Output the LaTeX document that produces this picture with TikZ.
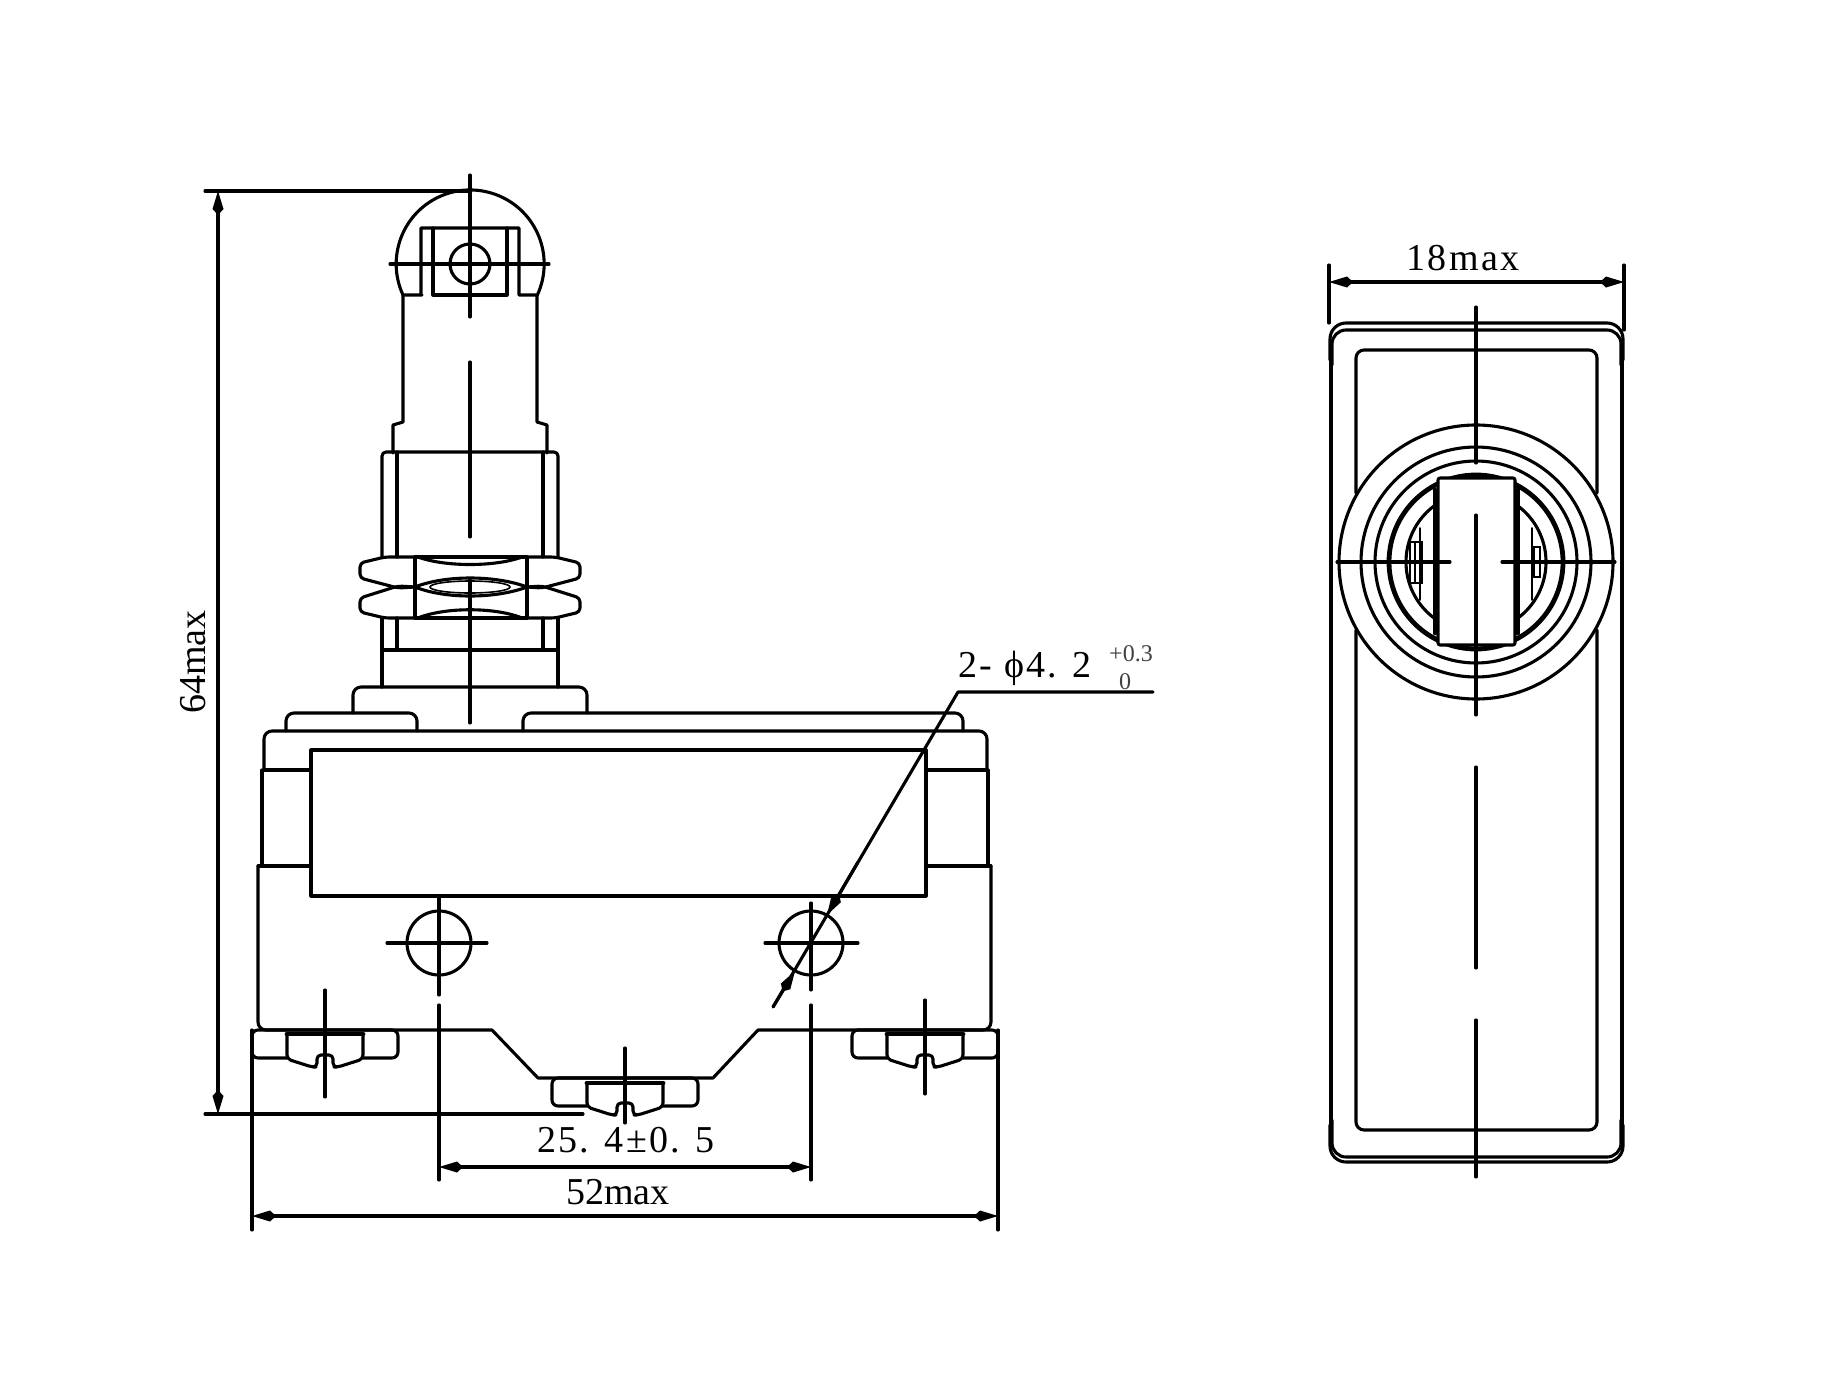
\documentclass[tikz,border=0pt]{standalone}
\usepackage{fontspec}
\setmainfont{Liberation Serif}
\newfontfamily\spacedfont[LetterSpace=6]{Liberation Serif}
\usetikzlibrary{arrows.meta}
\tikzset{
	part/.style={line width=1.55pt,line cap=round,line join=round},
	heavy/.style={line width=2.4pt,line cap=round,line join=round},
	fine/.style={line width=.8pt,line cap=round},
	dimline/.style={line width=1.55pt,{Kite[length=12pt,width=5.5pt,inset=3pt]}-{Kite[length=12pt,width=5.5pt,inset=3pt]}},
	tipline/.style={line width=1.55pt,-{Kite[length=12pt,width=5.5pt,inset=3pt]}},
	label/.style={inner sep=0pt,font=\fontsize{19}{19}\selectfont},
	spaced/.style={inner sep=0pt,font=\spacedfont\fontsize{19}{19}\selectfont},
	tol/.style={inner sep=0pt,text=black!75,font=\fontsize{12}{12}\selectfont}
}
\begin{document}
\begin{tikzpicture}[x=.5pt,y=-.5pt]
	\useasboundingbox (0,0) rectangle (1825,1376);

	\coordinate (h64t) at (205,191);
	\coordinate (c64t) at (470,191);
	\coordinate (h64b) at (205,1114);
	\coordinate (c64b) at (583,1114);
	\coordinate (d64t) at (218,191);
	\coordinate (d64b) at (218,1114);
	\coordinate (e52l) at (252,1030);
	\coordinate (f52l) at (252,1230);
	\coordinate (e52r) at (998,1030);
	\coordinate (f52r) at (998,1230);
	\coordinate (d52l) at (252,1216);
	\coordinate (d52r) at (998,1216);
	\coordinate (d25l) at (439,1167);
	\coordinate (d25r) at (811,1167);
	\coordinate (e18l) at (1329,265);
	\coordinate (f18l) at (1329,323);
	\coordinate (e18r) at (1624,265);
	\coordinate (f18r) at (1624,330);
	\coordinate (d18l) at (1329,282);
	\coordinate (d18r) at (1624,282);
	\coordinate (lead1) at (1153,692);
	\coordinate (lead2) at (958,692);
	\coordinate (lead3) at (773,1007);
	\coordinate (tipa) at (827,915);
	\coordinate (tipb) at (795,971);
	\coordinate (taila) at (858,862);

	\node[spaced] (n254) at (626,1140) {25. 4±0. 5};
	\node[label] (n52) at (618,1192) {52max};
	\node[label,rotate=90] (n64) at (193,662) {64max};
	\node[spaced] (n18) at (1463,258) {18max};
	\node[spaced,anchor=west] (nhole) at (958,668) {2- ϕ4. 2};
	\node[tol] (nup) at (1131,654) {+0.3};
	\node[tol] (nlow) at (1125,682) {0};

	% roller and plunger
	\draw[part] (422,295) -- (403,295) arc[start angle=204.8,end angle=-24.8,radius=37pt] -- (519,295) -- (519,228) -- (421,228) -- (421,295);
	\draw[part] (433,228) -- (433,295) -- (507,295) -- (507,228);
	\draw[part] (470,264) circle[radius=10pt];
	\draw[part] (390,264) -- (549,264);
	\draw[part] (403,295) -- (403,422) -- (393,425) -- (393,453);
	\draw[part] (537,295) -- (537,422) -- (547,425) -- (547,453);
	\draw[part] (470,175) -- (470,317);
	\draw[part] (470,362) -- (470,537);
	\draw[part] (470,580) -- (470,723);

	% bushing and nuts
	\draw[part,rounded corners=2pt] (382,557) -- (382,452) -- (558,452) -- (558,557);
	\draw[part] (397,452) -- (397,557);
	\draw[part] (543,452) -- (543,557);
	\draw[part,rounded corners=2pt] (415,557) -- (385,557) -- (360,563) -- (360,578) -- (398,588) -- (415,587);
	\draw[part,rounded corners=2pt] (527,557) -- (555,557) -- (580,563) -- (580,578) -- (542,588) -- (527,587);
	\draw[part,rounded corners=2pt] (415,587) -- (398,586) -- (360,598) -- (360,612) -- (385,618) -- (415,618);
	\draw[part,rounded corners=2pt] (527,587) -- (542,586) -- (580,598) -- (580,612) -- (555,618) -- (527,618);
	\draw[part] (415,557) -- (527,557);
	\draw[part] (415,618) -- (527,618);
	\draw[part] (415,557) -- (415,618);
	\draw[part] (527,557) -- (527,618);
	\draw[part] (418,557) .. controls (445,567) and (495,567) .. (522,557);
	\draw[part] (415,587) .. controls (445,575) and (495,575) .. (527,587);
	\draw[part] (415,587) .. controls (445,599) and (495,599) .. (527,587);
	\draw[part] (418,618) .. controls (445,607) and (495,607) .. (522,618);
	\draw[fine] (470,587) ellipse[x radius=20pt,y radius=3pt];
	\draw[part] (382,618) -- (382,687);
	\draw[part] (558,618) -- (558,687);
	\draw[part] (397,618) -- (397,650);
	\draw[part] (543,618) -- (543,650);
	\draw[part] (382,650) -- (558,650);
	\draw[part,rounded corners=4pt] (353,713) -- (353,687) -- (587,687) -- (587,713);

	% switch body
	\draw[part,rounded corners=4pt] (286,731) -- (286,713) -- (417,713) -- (417,731);
	\draw[part,rounded corners=4pt] (523,731) -- (523,713) -- (963,713) -- (963,731);
	\draw[part,rounded corners=4pt] (264,770) -- (264,731) -- (987,731) -- (987,770);
	\draw[part,line width=2pt] (264,770) -- (311,770);
	\draw[part,line width=2pt] (926,770) -- (987,770);
	\draw[part] (311,750) rectangle (926,896);
	\draw[part] (262,770) -- (262,866);
	\draw[part] (988,770) -- (988,866);
	\draw[part] (258,866) -- (311,866);
	\draw[part] (926,866) -- (991,866);
	\draw[part] (258,866) [rounded corners=4pt] -- (258,1030) [sharp corners] -- (492,1030) -- (538,1078) -- (713,1078) -- (758,1030) [rounded corners=4pt] -- (991,1030) [sharp corners] -- (991,866);

	% terminals
	\draw[part,rounded corners=3pt,shift={(325,1030)}] (-38,28) -- (-73,28) -- (-73,0) -- (73,0) -- (73,28) -- (38,28);
	\draw[part,rounded corners=2pt,shift={(325,1030)}] (-38,5) -- (-38,29) -- (-13,37) -- (-8,37) -- (-8,25) -- (8,25) -- (8,37) -- (13,37) -- (38,29) -- (38,5);
	\draw[heavy,shift={(325,1030)}] (-38,4) -- (38,4);
	\draw[part] (325,990) -- (325,1097);
	\draw[part,rounded corners=3pt,shift={(625,1078)}] (-38,28) -- (-73,28) -- (-73,0) -- (73,0) -- (73,28) -- (38,28);
	\draw[part,rounded corners=2pt,shift={(625,1078)}] (-38,5) -- (-38,29) -- (-13,37) -- (-8,37) -- (-8,25) -- (8,25) -- (8,37) -- (13,37) -- (38,29) -- (38,5);
	\draw[heavy,shift={(625,1078)}] (-38,5) -- (38,5);
	\draw[part] (625,1048) -- (625,1123);
	\draw[part,rounded corners=3pt,shift={(925,1030)}] (-38,28) -- (-73,28) -- (-73,0) -- (73,0) -- (73,28) -- (38,28);
	\draw[part,rounded corners=2pt,shift={(925,1030)}] (-38,5) -- (-38,29) -- (-13,37) -- (-8,37) -- (-8,25) -- (8,25) -- (8,37) -- (13,37) -- (38,29) -- (38,5);
	\draw[heavy,shift={(925,1030)}] (-38,4) -- (38,4);
	\draw[part] (925,1000) -- (925,1094);

	% mounting holes
	\draw[part] (439,943) circle[radius=16pt];
	\draw[part] (387,943) -- (487,943);
	\draw[part] (439,897) -- (439,995);
	\draw[part] (439,1005) -- (439,1180);
	\draw[part] (811,943) circle[radius=16pt];
	\draw[part] (765,943) -- (858,943);
	\draw[part] (811,903) -- (811,990);
	\draw[part] (811,1005) -- (811,1180);

	% dimensions
	\draw[part] (h64t) -- (c64t);
	\draw[part] (h64b) -- (c64b);
	\draw[dimline] (d64t) -- (d64b);
	\draw[part] (e52l) -- (f52l);
	\draw[part] (e52r) -- (f52r);
	\draw[dimline] (d52l) -- (d52r);
	\draw[dimline] (d25l) -- (d25r);
	\draw[part] (lead1) -- (lead2) -- (lead3);
	\draw[tipline] (taila) -- (tipa);
	\draw[tipline] (lead3) -- (tipb);

	% side view
	\draw[part,rounded corners=8pt] (1330,360) -- (1330,323) -- (1623,323) -- (1623,360);
	\draw[part,rounded corners=7pt] (1332,365) -- (1332,330) -- (1621,330) -- (1621,365);
	\draw[part,rounded corners=8pt] (1330,1125) -- (1330,1162) -- (1623,1162) -- (1623,1125);
	\draw[part,rounded corners=7pt] (1332,1120) -- (1332,1157) -- (1621,1157) -- (1621,1120);
	\draw[heavy] (1331,345) -- (1331,1140);
	\draw[heavy] (1622,345) -- (1622,1140);
	\draw[part,rounded corners=4pt] (1356,493) -- (1356,350) -- (1597,350) -- (1597,493);
	\draw[part,rounded corners=4pt] (1356,630) -- (1356,1130) -- (1597,1130) -- (1597,630);
	\draw[part] (1476,562) circle[radius=68.5pt];
	\draw[part] (1476,562) circle[radius=57.5pt];
	\draw[part] (1476,562) circle[radius=50.5pt];
	\draw[heavy] (1476,562) circle[radius=43.5pt];
	\draw[part] (1476,562) circle[radius=35pt];
	\draw[fine] (1420,528) -- (1420,600);
	\draw[fine] (1410,542) rectangle (1422,583);
	\draw[fine] (1415,542) -- (1415,583);
	\draw[fine] (1532,528) -- (1532,600);
	\draw[fine] (1534,547) rectangle (1540,577);
	\draw[heavy] (1435,490) -- (1435,633);
	\draw[heavy] (1518,490) -- (1518,633);
	\draw[part,fill=white,rounded corners=1pt] (1438,478) rectangle (1515,645);
	\draw[part] (1337,562) -- (1450,562);
	\draw[part] (1502,562) -- (1615,562);
	\draw[part] (1476,307) -- (1476,463);
	\draw[part] (1476,515) -- (1476,715);
	\draw[part] (1476,767) -- (1476,968);
	\draw[part] (1476,1020) -- (1476,1177);
	\draw[part] (e18l) -- (f18l);
	\draw[part] (e18r) -- (f18r);
	\draw[dimline] (d18l) -- (d18r);
\end{tikzpicture}
\end{document}
